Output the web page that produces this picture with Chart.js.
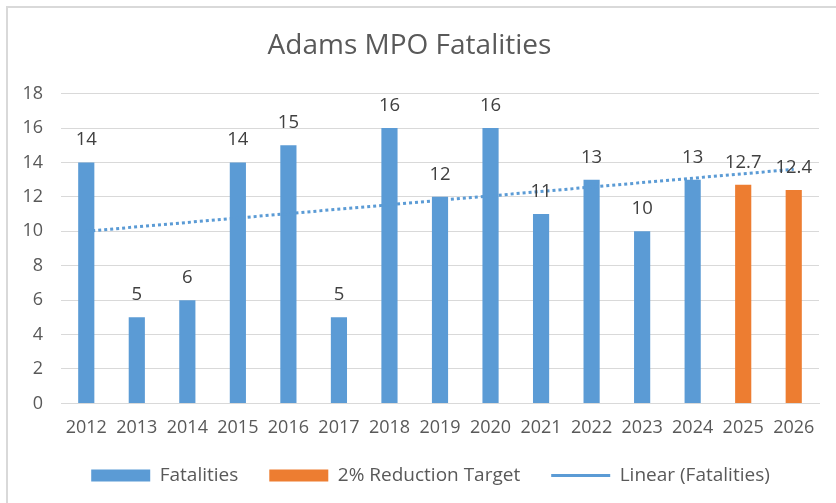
<!DOCTYPE html>
<html>
<head>
<meta charset="utf-8">
<script src="https://cdn.jsdelivr.net/npm/chart.js@4/dist/chart.umd.min.js"></script>
<style>
  html, body { margin: 0; padding: 0; background: #ffffff; }
  #frame { position: absolute; left: 6px; top: 6px; width: 860px; height: 520px; border: 2px solid #d9d9d9; box-sizing: border-box; }
  #wrap { position: absolute; left: 0; top: 0; width: 836px; height: 503px; }
</style>
</head>
<body>
<div id="frame"></div>
<div id="wrap"><canvas id="c" width="836" height="503"></canvas></div>
<script>
// ---- data ----
const years = ['2012','2013','2014','2015','2016','2017','2018','2019','2020','2021','2022','2023','2024','2025','2026'];
const fatalities = [14, 5, 6, 14, 15, 5, 16, 12, 16, 11, 13, 10, 13, null, null];
const reductionTarget = [null, null, null, null, null, null, null, null, null, null, null, null, null, 12.7, 12.4];
// trend line endpoints (2012 and 2026)
const linearTrend = [10.0, null, null, null, null, null, null, null, null, null, null, null, null, null, 13.6];
const yTicks = [0, 2, 4, 6, 8, 10, 12, 14, 16, 18];

const FONT = "'Open Sans', 'Liberation Sans', sans-serif";
const BLUE = '#5B9BD5';
const ORANGE = '#ED7D31';
const LEGEND_SHRINK = 18;   // legend box height given back to the plot area
const LEGEND_SHIFT_X = 21;  // legend centre offset

const tweaks = {
  id: 'tweaks',
  beforeUpdate(chart) {
    const lg = chart.legend;
    if (lg && !lg._wrapped) {
      const orig = lg.fit;
      lg.fit = function () { orig.call(this); this.height -= LEGEND_SHRINK; };
      lg._wrapped = true;
    }
  },
  afterLayout(chart) {
    const lg = chart.legend;
    if (lg) {
      lg.left += LEGEND_SHIFT_X; lg.right += LEGEND_SHIFT_X;
      lg.top -= LEGEND_SHRINK;
    }
  },
  afterDatasetsDraw(chart) {
    const ctx = chart.ctx;
    ctx.save();
    ctx.font = "18.5px " + FONT;
    ctx.fillStyle = '#404040';
    ctx.textAlign = 'center';
    ctx.textBaseline = 'alphabetic';
    chart.data.datasets.forEach((ds, di) => {
      if (ds.type === 'line') return;
      const meta = chart.getDatasetMeta(di);
      meta.data.forEach((el, i) => {
        const v = ds.data[i];
        if (v === null || v === undefined) return;
        ctx.fillText(String(v), el.x, el.y - 17);
      });
    });
    ctx.restore();
  }
};

new Chart(document.getElementById('c'), {
  type: 'bar',
  data: {
    labels: years,
    datasets: [
      { label: 'Fatalities', data: fatalities, backgroundColor: BLUE, borderWidth: 0,
        barPercentage: 0.32, categoryPercentage: 1, grouped: false, pointStyle: 'rect', order: 1 },
      { label: '2% Reduction Target', data: reductionTarget, backgroundColor: ORANGE, borderWidth: 0,
        barPercentage: 0.32, categoryPercentage: 1, grouped: false, pointStyle: 'rect', order: 1 },
      { type: 'line', label: 'Linear (Fatalities)', data: linearTrend, borderColor: BLUE, backgroundColor: BLUE,
        borderWidth: 3, borderDash: [3, 3], spanGaps: true, pointRadius: 0, pointStyle: 'line',
        fill: false, tension: 0, order: 0 }
    ]
  },
  options: {
    responsive: false,
    animation: false,
    events: [],
    layout: { padding: { left: 0, right: 17, top: 0, bottom: 8 } },
    plugins: {
      title: {
        display: true, text: 'Adams MPO Fatalities', color: '#595959',
        font: { family: FONT, size: 28, weight: 'normal' },
        padding: { top: 29, bottom: 31 }
      },
      legend: {
        position: 'bottom',
        labels: {
          usePointStyle: true, pointStyleWidth: 59, boxHeight: 12,
          color: '#595959', font: { family: FONT, size: 19 }, padding: 31,
          sort: (a, b) => a.datasetIndex - b.datasetIndex
        }
      },
      tooltip: { enabled: false }
    },
    scales: {
      x: {
        grid: { display: false, drawTicks: false },
        border: { display: true, color: '#d9d9d9', width: 1 },
        ticks: { color: '#595959', font: { family: FONT, size: 18 }, padding: 14, maxRotation: 0, autoSkip: false }
      },
      y: {
        min: 0, max: 18,
        afterBuildTicks: (s) => { s.ticks = yTicks.map(v => ({ value: v })); },
        afterFit: (s) => { s.width = 61; },
        grid: { color: '#d9d9d9', lineWidth: 1, drawTicks: false },
        border: { display: false },
        ticks: { color: '#595959', font: { family: FONT, size: 18 }, padding: 18 }
      }
    }
  },
  plugins: [tweaks]
});
</script>
</body>
</html>
